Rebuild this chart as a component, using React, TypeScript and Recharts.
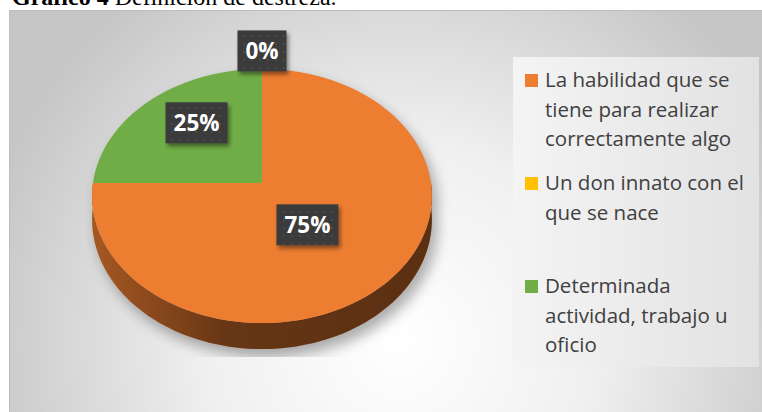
import React from 'react';
import { PieChart, Pie, Legend } from 'recharts';

// Datos del gráfico
const categories = [
  'La habilidad que se tiene para realizar correctamente algo',
  'Un don innato con el que se nace',
  'Determinada actividad, trabajo u oficio',
];
const values = [75, 0, 25];
const colors = ['#ED7D31', '#FFC000', '#70AD47'];

const data = categories.map((name, i) => ({ name, value: values[i], fill: colors[i] }));

// 3D look: tilt of the top face, perspective strength, wall depth (relative to radius)
const TILT = 0.744;
const PERSP = 0.1023;
const DEPTH = 0.138;

function proj(cx: number, cy: number, r: number, R: number, angle: number, tilt = TILT) {
  const rad = (angle * Math.PI) / 180;
  const s = (-Math.sin(rad) * r) / R;
  const w = 1 / (1 - PERSP * s);
  return [cx + r * Math.cos(rad) * w, cy + tilt * R * s * w, w];
}

function arcPoints(cx: number, cy: number, R: number, a0: number, a1: number) {
  const n = Math.max(2, Math.ceil(Math.abs(a1 - a0) / 2));
  const pts: number[][] = [];
  for (let i = 0; i <= n; i++) pts.push(proj(cx, cy, R, R, a0 + ((a1 - a0) * i) / n));
  return pts;
}

function facePath(cx: number, cy: number, R: number, a0: number, a1: number) {
  const pts = arcPoints(cx, cy, R, a0, a1);
  return `M${cx},${cy} ` + pts.map((p) => `L${p[0].toFixed(2)},${p[1].toFixed(2)}`).join(' ') + ' Z';
}

function sidePath(cx: number, cy: number, R: number, a0: number, a1: number) {
  const top = arcPoints(cx, cy, R, a0, a1);
  const bottom = top.map((p) => [p[0], p[1] + DEPTH * R * p[2]]).reverse();
  const all = top.concat(bottom);
  return all.map((p, i) => `${i ? 'L' : 'M'}${p[0].toFixed(2)},${p[1].toFixed(2)}`).join(' ') + ' Z';
}

// front (visible) part of the wall: where the rim points toward the viewer
function frontRanges(a0: number, a1: number) {
  const lo = Math.min(a0, a1);
  const hi = Math.max(a0, a1);
  const out: number[][] = [];
  for (let k = -2; k <= 2; k++) {
    const l = Math.max(lo, 180 + 360 * k);
    const h = Math.min(hi, 360 + 360 * k);
    if (h > l) out.push([l, h]);
  }
  return out;
}

const renderFace = (props: any) => {
  const { cx, cy, outerRadius: R, startAngle, endAngle, fill, index } = props;
  const shadow =
    index === 0 ? (
      <g clipPath="url(#plotClip)">
        <path
          d={facePath(cx, cy, R, 0, 360) + ' ' + sidePath(cx, cy, R, 180, 360)}
          transform="translate(5,8)"
          fill="#000"
          opacity={0.32}
          filter="url(#pieBlur)"
        />
      </g>
    ) : null;
  if (startAngle === endAngle) return <g key={`f-${index}`}>{shadow}</g>;
  return (
    <g key={`f-${index}`}>
      {index === 0 && (
        <defs>
          <filter id="pieBlur" x="-20%" y="-20%" width="140%" height="140%">
            <feGaussianBlur stdDeviation="7" />
          </filter>
          <clipPath id="plotClip">
            <rect x={0} y={0} width={762} height={357} />
          </clipPath>
          <linearGradient id="wallShade" gradientUnits="userSpaceOnUse" x1={cx - R} y1={0} x2={cx + R} y2={0}>
            <stop offset="0" stopColor="#000" stopOpacity={0.3} />
            <stop offset="0.4" stopColor="#000" stopOpacity={0.57} />
            <stop offset="1" stopColor="#000" stopOpacity={0.62} />
          </linearGradient>
          <pattern id="lblDots" width="8" height="8" patternUnits="userSpaceOnUse">
            <rect width="8" height="8" fill="#3a3a3a" />
            <circle cx="4" cy="4" r="1" fill="#4d4d4d" />
          </pattern>
          <filter id="boxShadow" x="-30%" y="-30%" width="160%" height="160%">
            <feDropShadow dx="2" dy="3" stdDeviation="2" floodColor="#000" floodOpacity="0.45" />
          </filter>
        </defs>
      )}
      {shadow}
      {frontRanges(startAngle, endAngle).map(([l, h], k) => (
        <g key={k}>
          <path d={sidePath(cx, cy, R, l, h)} fill={fill} />
          <path d={sidePath(cx, cy, R, l, h)} fill="url(#wallShade)" />
        </g>
      ))}
      <path d={facePath(cx, cy, R, startAngle, endAngle)} fill={fill} />
    </g>
  );
};

const renderBox = (props: any) => {
  const { cx, cy, outerRadius: R, startAngle, endAngle, midAngle, percent, index } = props;
  const sweep = (Math.abs(endAngle - startAngle) * Math.PI) / 180;
  let x: number;
  let y: number;
  if (sweep === 0) {
    const p = proj(cx, cy, R, R, midAngle);
    const rad = (midAngle * Math.PI) / 180;
    x = p[0] + 18 * Math.cos(rad);
    y = p[1] - 18 * Math.sin(rad);
  } else {
    const centroid = (4 * Math.sin(sweep / 2)) / (3 * sweep);
    const p = proj(cx, cy, R * (0.27 + 0.5 * centroid), R, midAngle, 0.92);
    x = p[0];
    y = p[1];
  }
  const text = `${Math.round(percent * 100)}%`;
  const w = 23 + 13 * text.length;
  const h = 41;
  return (
    <g key={`b-${index}`}>
      <rect x={x - w / 2} y={y - h / 2} width={w} height={h} fill="url(#lblDots)" filter="url(#boxShadow)" />
      <text
        x={x}
        y={y + 8}
        textAnchor="middle"
        fill="#ffffff"
        fontFamily="'Open Sans', sans-serif"
        fontWeight="bold"
        fontSize={22.5}
      >
        {text}
      </text>
    </g>
  );
};

const renderLegend = () => (
  <div
    style={{
      position: 'relative',
      width: 246,
      height: 310,
      background: 'linear-gradient(to right, #f4f4f4, #e2e2e2)',
      fontFamily: "'Open Sans', sans-serif",
      fontSize: 20.5,
      lineHeight: '29.5px',
      color: '#404040',
    }}
  >
    {categories.map((name, i) => (
      <div key={name} style={{ position: 'absolute', left: 0, top: 8 + i * 103, width: 246 }}>
        <span
          style={{
            position: 'absolute',
            left: 12,
            top: 9,
            width: 13,
            height: 13,
            background: colors[i],
          }}
        />
        <div style={{ marginLeft: 32, width: 210 }}>{name}</div>
      </div>
    ))}
  </div>
);

export default function App() {
  return (
    <div style={{ position: 'absolute', left: 0, top: 0, width: 762, height: 412, overflow: 'hidden', background: '#fff' }}>
      <div
        style={{
          position: 'absolute',
          left: 12,
          top: -15,
          fontFamily: "'Liberation Serif', 'Times New Roman', serif",
          fontSize: 24,
          lineHeight: '24px',
          whiteSpace: 'nowrap',
          color: '#000',
        }}
      >
        <b>Gráfico 4</b> Definición de destreza.
      </div>
      <div
        style={{
          position: 'absolute',
          left: 9,
          top: 10,
          width: 770,
          height: 420,
          borderTop: '1px solid #bdbdbd',
          borderLeft: '1px solid #bdbdbd',
          background:
            'radial-gradient(ellipse 430px 440px at 390px 330px, #ffffff 0%, #f0f0f0 45%, #c6c6c6 100%)',
        }}
      />
      <div style={{ position: 'absolute', left: 0, top: 0 }}>
        <PieChart width={762} height={412} margin={{ top: 0, right: 0, bottom: 0, left: 0 }}>
          <Pie
            data={data}
            dataKey="value"
            nameKey="name"
            cx={262}
            cy={183}
            outerRadius={169}
            startAngle={180}
            endAngle={540}
            fill="transparent"
            fillOpacity={0}
            stroke="none"
            labelLine={false}
            label={renderFace}
            isAnimationActive={false}
          />
          <Pie
            data={data}
            dataKey="value"
            nameKey="name"
            cx={262}
            cy={183}
            outerRadius={169}
            startAngle={180}
            endAngle={540}
            fill="transparent"
            fillOpacity={0}
            stroke="none"
            labelLine={false}
            label={renderBox}
            legendType="none"
            isAnimationActive={false}
          />
          <Legend
            content={renderLegend}
            wrapperStyle={{ position: 'absolute', left: 513, top: 57, width: 246, height: 310 }}
          />
        </PieChart>
      </div>
    </div>
  );
}
